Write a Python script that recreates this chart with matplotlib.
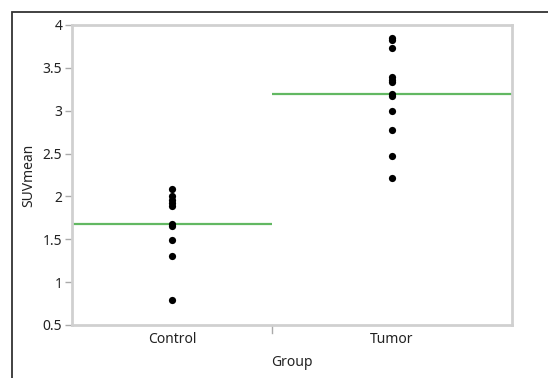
import matplotlib
matplotlib.use("Agg")
import matplotlib.pyplot as plt
from matplotlib.patches import Rectangle
import numpy as np

plt.rcParams['font.family'] = ['Noto Sans', 'DejaVu Sans']

groups = ["Control", "Tumor"]
control_values = [2.09, 2.00, 1.96, 1.92, 1.89, 1.68, 1.66, 1.49, 1.31, 0.79]
tumor_values = [3.85, 3.82, 3.73, 3.39, 3.36, 3.33, 3.20, 3.17, 3.00, 2.78, 2.47, 2.22]
y_ticks = [0.5, 1, 1.5, 2, 2.5, 3, 3.5, 4]
y_ticklabels = ["0.5", "1", "1.5", "2", "2.5", "3", "3.5", "4"]

W, H = 548, 378
fig = plt.figure(figsize=(W / 100, H / 100), dpi=100)

# outer frame
fig.patches.append(Rectangle((12 / W, -0.1), 1.2, (H - 12) / H + 0.1, transform=fig.transFigure,
                             fill=False, edgecolor='#333333', linewidth=1.3))

ax = fig.add_axes([72 / W, 1 - 325 / H, 440 / W, 300 / H])

data = [control_values, tumor_values]
counts = [len(d) for d in data]
total = sum(counts)
edges = np.concatenate([[0], np.cumsum(counts) / total])
centers = (edges[:-1] + edges[1:]) / 2

green = '#62b862'
for i, vals in enumerate(data):
    ax.scatter([centers[i]] * len(vals), vals, s=27, color='black', zorder=3, linewidths=0)
    m = np.mean(vals)
    ax.plot([edges[i], edges[i + 1]], [m, m], color=green, lw=1.6, zorder=2, solid_capstyle='butt')

ax.set_xlim(0, 1)
ax.set_ylim(0.5, 4)
ax.set_yticks(y_ticks)
ax.set_yticklabels(y_ticklabels)
ax.set_xticks(centers)
ax.set_xticklabels(groups)
ax.tick_params(axis='x', length=0, pad=5, labelsize=10, labelcolor='#222222')
ax.tick_params(axis='y', length=5, width=1, color='#aaaaaa', pad=2, labelsize=10, labelcolor='#222222')
# split tick
for e in edges[1:-1]:
    ax.plot([e, e], [0, -0.025], transform=ax.get_xaxis_transform(), color='#aaaaaa', lw=1, clip_on=False)

for s in ax.spines.values():
    s.set_color('#d0d0d0')
    s.set_linewidth(2)

ax.set_ylabel("SUVmean", fontsize=10, color='#222222', labelpad=5)
ax.set_xlabel("Group", fontsize=10, color='#222222', labelpad=6)

fig.savefig("out.png", dpi=100)
